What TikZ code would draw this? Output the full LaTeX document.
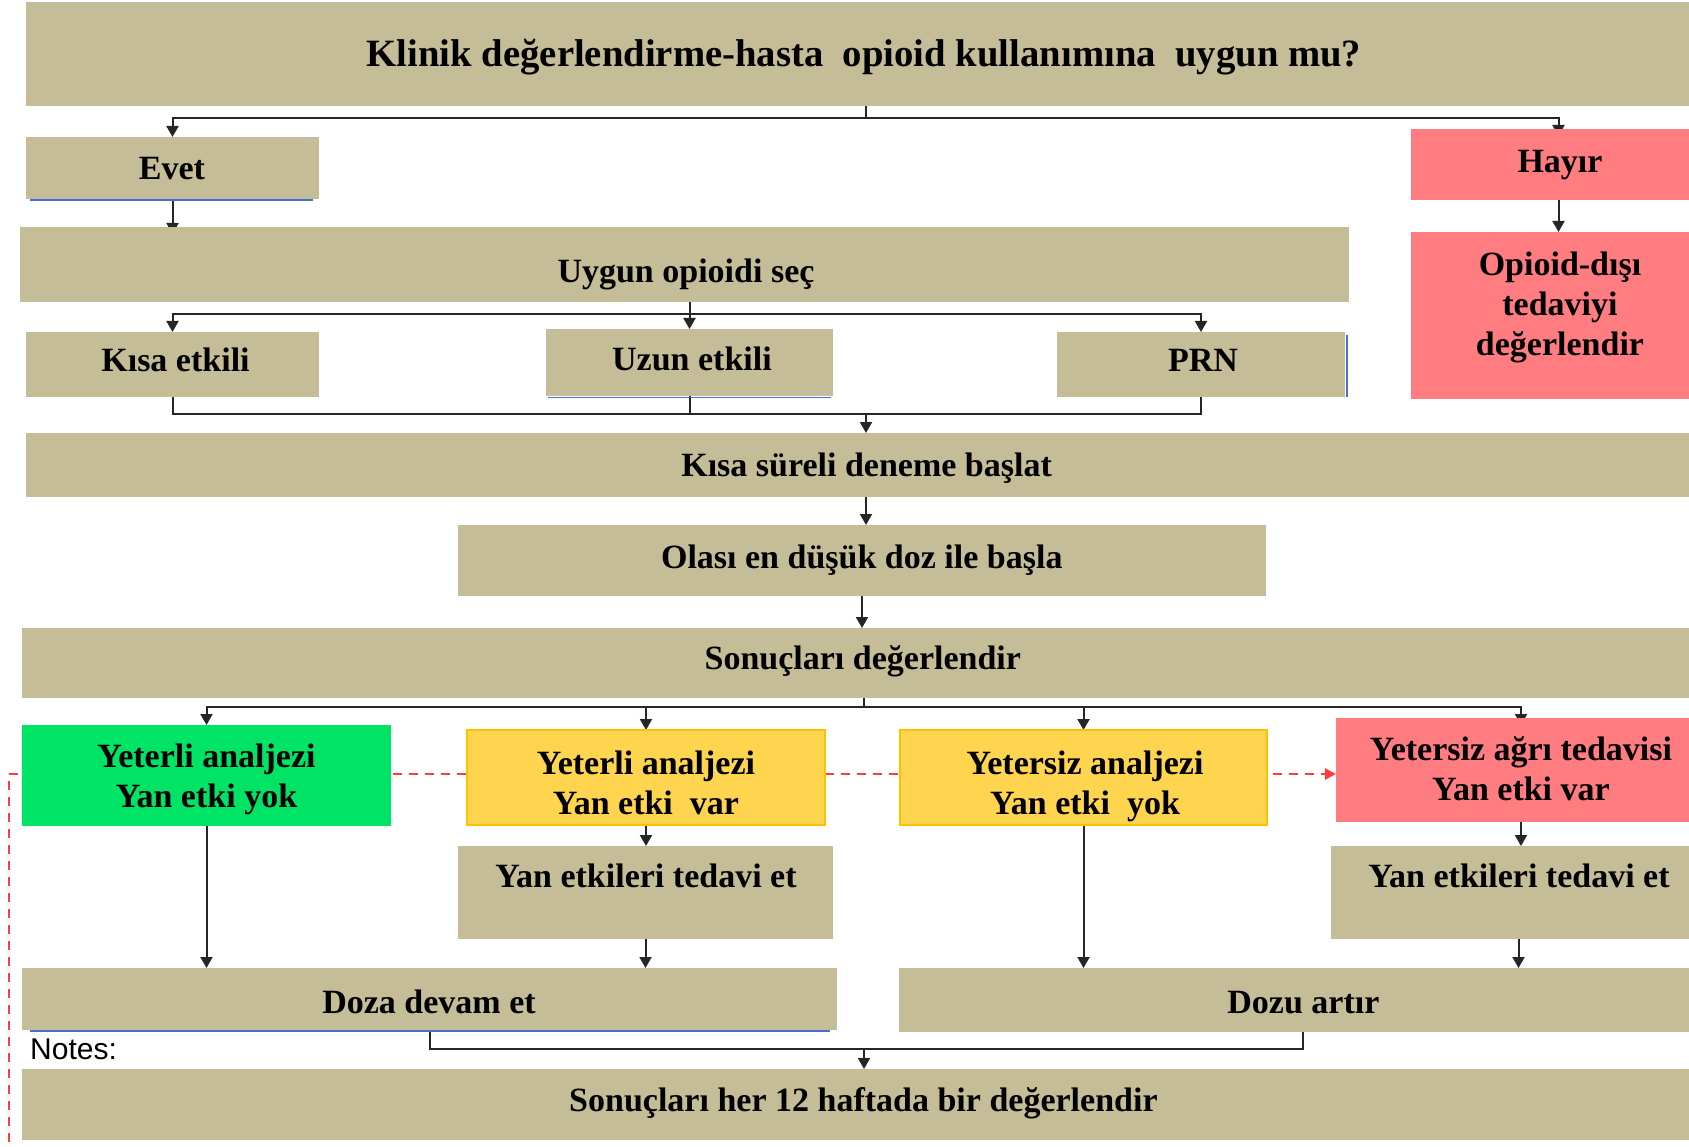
\documentclass[tikz,border=0pt]{standalone}
\usepackage{fontspec}
\setmainfont{Liberation Serif}
\newfontfamily\notesfont{Liberation Sans}
\usetikzlibrary{arrows.meta,calc}
\definecolor{boxtan}{HTML}{C4BD97}
\definecolor{boxred}{HTML}{FF7C80}
\definecolor{boxgreen}{HTML}{00E466}
\definecolor{boxyel}{HTML}{FFD44F}
\definecolor{boxorange}{HTML}{FFC000}
\definecolor{lineblue}{HTML}{4472C4}
\definecolor{dashred}{HTML}{FF3B3B}
\pgfdeclarelayer{bg}
\pgfsetlayers{bg,main}
\begin{document}
\begin{tikzpicture}[x=1pt,y=-1pt,
  box/.style={inner sep=0pt,outer sep=0pt,draw=none,fill=boxtan},
  redbox/.style={box,fill=boxred},
  greenbox/.style={box,fill=boxgreen},
  yelbox/.style={box,fill=boxyel,draw=boxorange,line width=2pt},
  txt/.style={inner sep=0pt,align=center,font={\fontsize{34}{40}\selectfont\bfseries}},
  one/.style={txt,text height=27.2pt,text depth=6.8pt},
  conn/.style={draw=black!85,line width=2pt},
  arr/.style={conn,-{Triangle[length=11pt,width=12pt]}},
  hid/.style={shorten >=-7pt},
  blueline/.style={draw=lineblue,line width=2pt},
  reddash/.style={draw=dashred,line width=2.8pt,dash pattern=on 9pt off 7pt,
    -{Triangle[length=11pt,width=11pt]}}
]
\useasboundingbox (0,0) rectangle (1689,1147);

% boxes
\node[box,minimum width=1680pt,minimum height=104pt] (title) at (866,54) {};
\node[box,minimum width=293pt,minimum height=62pt] (evet) at (172.5,168) {};
\node[redbox,minimum width=295pt,minimum height=71pt] (hayir) at (1558.5,164.5) {};
\node[redbox,minimum width=295pt,minimum height=167pt] (opioid) at (1558.5,315.5) {};
\node[box,minimum width=1329pt,minimum height=75pt] (uygun) at (684.5,264.5) {};
\node[box,minimum width=293pt,minimum height=65pt] (kisa) at (172.5,364.5) {};
\node[box,minimum width=287pt,minimum height=67pt] (uzun) at (689.5,362.5) {};
\node[box,minimum width=288pt,minimum height=65pt] (prn) at (1201,364.5) {};
\node[box,minimum width=1680pt,minimum height=64pt] (ksd) at (866,465) {};
\node[box,minimum width=808pt,minimum height=71pt] (olasi) at (862,560.5) {};
\node[box,minimum width=1684pt,minimum height=70pt] (sonuc) at (864,663) {};
\node[greenbox,minimum width=369pt,minimum height=101pt] (green) at (206.5,775.5) {};
\node[yelbox,minimum width=358pt,minimum height=95pt] (yel1) at (646,777.5) {};
\node[yelbox,minimum width=367pt,minimum height=95pt] (yel2) at (1083.5,777.5) {};
\node[redbox,minimum width=370pt,minimum height=104pt] (red2) at (1521,770) {};
\node[box,minimum width=375pt,minimum height=93pt] (ye1) at (645.5,892.5) {};
\node[box,minimum width=375pt,minimum height=93pt] (ye2) at (1518.5,892.5) {};
\node[box,minimum width=815pt,minimum height=62pt] (doza) at (429.5,999) {};
\node[box,minimum width=807pt,minimum height=64pt] (dozu) at (1302.5,1000) {};
\node[box,minimum width=1684pt,minimum height=71pt] (final) at (864,1104.5) {};

% texts
\node[txt,text height=31pt,text depth=7.7pt,font={\fontsize{38.7}{44}\selectfont\bfseries}] (titlet) at (864,55)
  {Klinik değerlendirme-hasta~ opioid kullanımına~ uygun mu?};
\node[one] (evett) at (172,169) {Evet};
\node[one] (hayirt) at (1560,162.6) {Hayır};
\node[txt] (opioidt) at (1560,307) {Opioid-dışı\\tedaviyi\\değerlendir};
\node[one] (uygunt) at (686,272.5) {Uygun opioidi seç};
\node[one] (kisat) at (175.5,361) {Kısa etkili};
\node[one] (uzunt) at (692,360) {Uzun etkili};
\node[one] (prnt) at (1203,361) {PRN};
\node[one] (ksdt) at (866.6,466.5) {Kısa süreli deneme başlat};
\node[one] (olasit) at (861.8,558) {Olası en düşük doz ile başla};
\node[one] (sonuct) at (862.8,659) {Sonuçları değerlendir};
\node[txt] (greent) at (206.5,779) {Yeterli analjezi\\Yan etki yok};
\node[txt] (yel1t) at (646,782.5) {Yeterli analjezi\\Yan etki~ var};
\node[txt] (yel2t) at (1085,786) {Yetersiz analjezi\\Yan etki~ yok};
\node[txt] (red2t) at (1521,768.5) {Yetersiz ağrı tedavisi\\Yan etki var};
\node[one] (ye1t) at (646,877) {Yan etkileri tedavi et};
\node[one] (ye2t) at (1519,877) {Yan etkileri tedavi et};
\node[one] (dozat) at (429,1003) {Doza devam et};
\node[one] (dozut) at (1303.4,1003) {Dozu artır};
\node[one] (finalt) at (863.4,1101) {Sonuçları her 12 haftada bir değerlendir};
\node[anchor=west,inner sep=0pt,font={\notesfont\fontsize{30}{36}\selectfont}] (notes) at (30,1049) {Notes:};

% thin blue edges
\draw[blueline] ($(evet.south west)+(4,1)$) -- ($(evet.south east)+(-6,1)$);
\draw[blueline,line width=1pt] ($(uzun.south west)+(2,1)$) -- ($(uzun.south east)+(-2,1)$);
\draw[blueline] ($(prn.north east)+(2,3)$) -- ($(prn.south east)+(2,0)$);
\draw[blueline] ($(doza.south west)+(8,1)$) -- ($(doza.south east)+(-7,1)$);

\begin{pgfonlayer}{bg}
\fill[white] (0,0) rectangle (1689,1147);
\coordinate (dl) at (9,1142);
\draw[reddash] (dl) |- ($(red2.west)+(0,4)$);

\draw[conn] (title.south) -- ++(0,12.5) coordinate (j0);
\draw[arr] (j0) -| (evet.north);
\draw[arr,hid] (j0) -| (hayir.north);
\draw[arr,hid] (evet.south) -- (evet.south |- uygun.north);
\draw[arr] (hayir.south) -- (opioid.north);

\coordinate (j1) at ($(uygun.south -| uzun.north)+(0,12)$);
\draw[arr] (uygun.south -| uzun.north) -- (uzun.north);
\draw[arr] (j1) -| (kisa.north);
\draw[arr] (j1) -| (prn.north);

\coordinate (j2) at ($(kisa.south)+(0,17)$);
\draw[conn] (kisa.south) -- (j2) -| (prn.south);
\draw[conn] (uzun.south) -- (uzun.south |- j2);
\draw[arr] (j2 -| ksd.north) -- (ksd.north);
\draw[arr] (ksd.south) -- (ksd.south |- olasi.north);
\draw[arr] (olasi.south) -- (olasi.south |- sonuc.north);

\coordinate (j3) at ($(sonuc.south)+(0,9)$);
\draw[conn] (sonuc.south) -- (j3);
\draw[arr] (j3) -| (green.north);
\draw[arr] (j3) -| (yel1.north);
\draw[arr] (j3) -| (yel2.north);
\draw[arr,hid] (j3) -| (red2.north);

\draw[arr] (yel1.south) -- (yel1.south |- ye1.north);
\draw[arr] (red2.south) -- (red2.south |- ye2.north);
\draw[arr] (green.south) -- (green.south |- doza.north);
\draw[arr] (ye1.south) -- (ye1.south |- doza.north);
\draw[arr] (yel2.south) -- (yel2.south |- dozu.north);
\draw[arr] (ye2.south) -- (ye2.south |- dozu.north);

\coordinate (j4) at ($(doza.south)+(0,19)$);
\draw[conn] (doza.south) -- (j4) -| (dozu.south);
\draw[arr] (j4 -| final.north) -- (final.north);
\end{pgfonlayer}
\end{tikzpicture}
\end{document}
